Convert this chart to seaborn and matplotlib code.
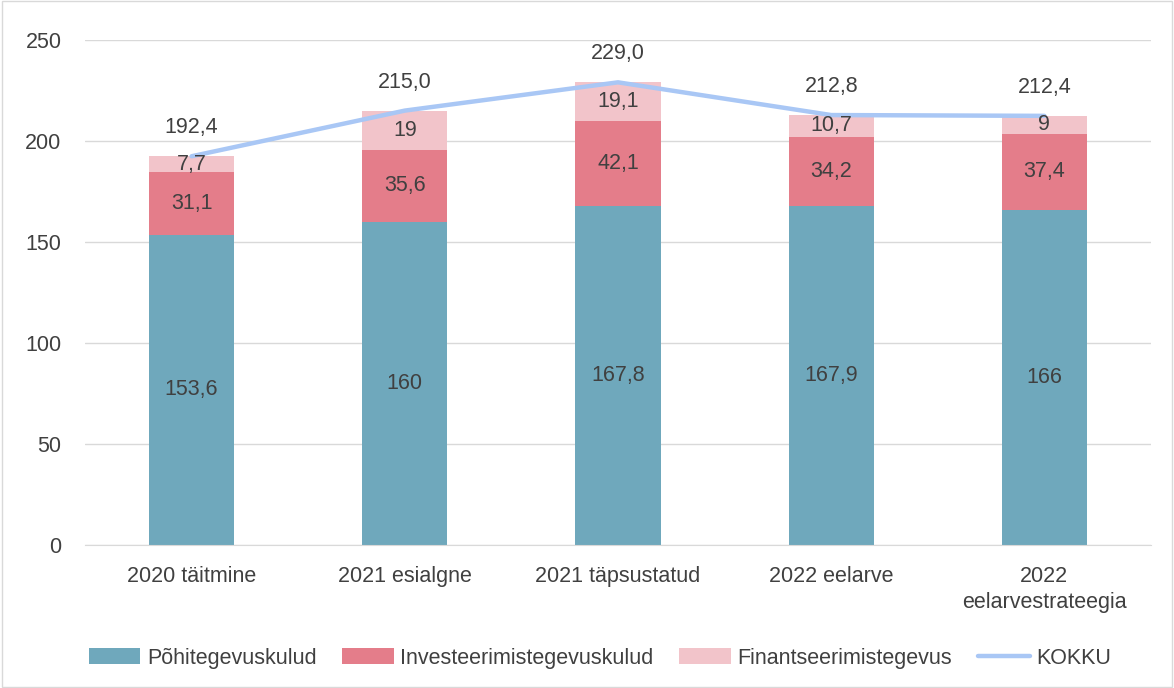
import pandas as pd
import seaborn as sns
import matplotlib.pyplot as plt

categories = ["2020 täitmine", "2021 esialgne", "2021 täpsustatud", "2022 eelarve", "2022\neelarvestrateegia"]
pohi = [153.6, 160, 167.8, 167.9, 166]
invest = [31.1, 35.6, 42.1, 34.2, 37.4]
finants = [7.7, 19, 19.1, 10.7, 9]
kokku = [192.4, 215.0, 229.0, 212.8, 212.4]

c_pohi = "#6FA8BC"
c_inv = "#E47D8A"
c_fin = "#F2C4CA"
c_line = "#A9C7F5"
txt = "#404040"

sns.set_style("white")
plt.rcParams['font.family'] = ['Liberation Sans', 'DejaVu Sans']

df = pd.DataFrame({"cat": categories, "pohi": pohi, "inv": invest, "fin": finants})
df["s2"] = df["pohi"] + df["inv"]
df["s3"] = df["s2"] + df["fin"]

fig = plt.figure(figsize=(11.74, 6.88), dpi=100)
ax = fig.add_axes([0.0724, 0.208, 0.908, 0.734])

# stacked bars: draw the cumulative totals from top to bottom
bar_kw = dict(width=0.4, saturation=1, ax=ax, linewidth=0, edgecolor="none")
sns.barplot(data=df, x="cat", y="s3", color=c_fin, label="Finantseerimistegevus", **bar_kw)
sns.barplot(data=df, x="cat", y="s2", color=c_inv, label="Investeerimistegevuskulud", **bar_kw)
sns.barplot(data=df, x="cat", y="pohi", color=c_pohi, label="Põhitegevuskulud", **bar_kw)
sns.lineplot(x=categories, y=kokku, color=c_line, linewidth=3.2, ax=ax, label="KOKKU", solid_capstyle="round")

def fmt(v):
    s = ("%.1f" % v).rstrip("0").rstrip(".")
    return s.replace(".", ",")

fs = 15.5
for i in range(len(categories)):
    ax.text(i, pohi[i] / 2, fmt(pohi[i]), ha="center", va="center", fontsize=fs, color=txt)
    ax.text(i, pohi[i] + invest[i] / 2, fmt(invest[i]), ha="center", va="center", fontsize=fs, color=txt)
    ax.text(i, pohi[i] + invest[i] + finants[i] / 2, fmt(finants[i]), ha="center", va="center", fontsize=fs, color=txt)
    ax.annotate(("%.1f" % kokku[i]).replace(".", ","), (i, kokku[i]), xytext=(0, 13),
                textcoords="offset points", ha="center", va="bottom", fontsize=fs, color=txt)

ax.set_ylim(0, 250)
ax.set_xlim(-0.5, 4.5)
ax.set_yticks([0, 50, 100, 150, 200, 250])
ax.yaxis.grid(True, color="#D9D9D9", linewidth=1)
ax.set_axisbelow(True)
for s in ax.spines.values():
    s.set_visible(False)
ax.spines["bottom"].set_visible(True)
ax.spines["bottom"].set_color("#D9D9D9")
ax.tick_params(axis="y", length=0, labelsize=fs, colors=txt, pad=17)
ax.tick_params(axis="x", length=0, labelsize=fs, colors=txt, pad=15)
for t in ax.get_xticklabels():
    t.set_linespacing(1.3)
ax.set_xlabel("")
ax.set_ylabel("")

handles, labels = ax.get_legend_handles_labels()
order = ["Põhitegevuskulud", "Investeerimistegevuskulud", "Finantseerimistegevus", "KOKKU"]
hmap = dict(zip(labels, handles))
ax.legend([hmap[o] for o in order], order, loc="center", bbox_to_anchor=(0.483, -0.224),
          ncol=4, frameon=False, fontsize=fs, labelcolor=txt, handlelength=2.4,
          handletextpad=0.3, columnspacing=1.2)

fig.patches.append(plt.Rectangle((0.002, 0.002), 0.996, 0.996, transform=fig.transFigure,
                                 fill=False, edgecolor="#D9D9D9", linewidth=1))

fig.savefig("out.png", dpi=100)
